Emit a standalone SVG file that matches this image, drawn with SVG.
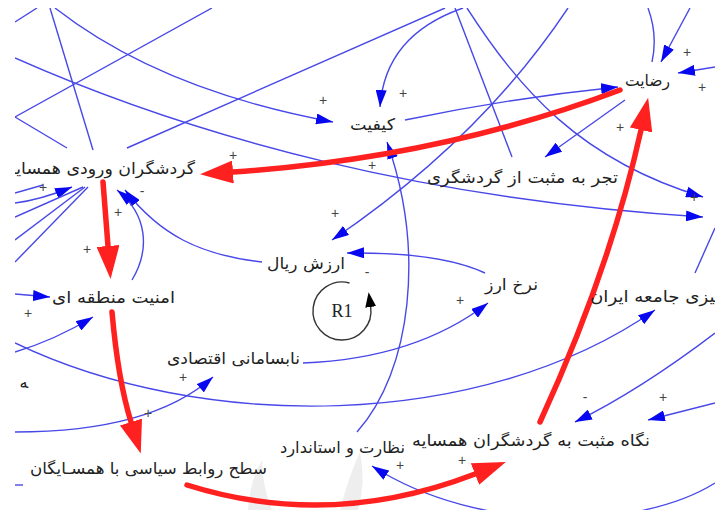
<svg xmlns="http://www.w3.org/2000/svg" width="715" height="510" viewBox="0 0 715 510">
<style>
.bg{fill:#ffffff}
.l{fill:none;stroke:#4848e8;stroke-width:1.4}
.la{fill:none;stroke:#4848e8;stroke-width:1.4;marker-end:url(#ab)}
.r{fill:none;stroke:#ff2020;stroke-width:5.5;stroke-linecap:round;marker-end:url(#ar)}
.t{font-family:"DejaVu Sans",sans-serif;font-size:16px;fill:#222;text-anchor:end}
.s{font-family:"Liberation Sans",Arial,sans-serif;font-size:14px;fill:#444;text-anchor:middle}
.wm{fill:#e2e2e2;opacity:0.6}
</style>
<defs>
<clipPath id="c"><rect x="15" y="8" width="700" height="502"/></clipPath>
<marker id="ab" markerUnits="userSpaceOnUse" markerWidth="17" markerHeight="11" refX="17" refY="5.5" orient="auto"><path d="M0,0 L17,5.5 L0,11 z" fill="#0808f0"/></marker>
<marker id="ar" markerUnits="userSpaceOnUse" markerWidth="33" markerHeight="23" refX="0" refY="11.5" orient="auto"><path d="M0,0 L33,11.5 L0,23 z" fill="#ff2020"/></marker>
<marker id="ak" markerUnits="userSpaceOnUse" markerWidth="15" markerHeight="11" refX="0" refY="5.5" orient="auto"><path d="M0,0 L15,5.5 L0,11 z" fill="#000"/></marker>
</defs>
<rect class="bg" x="0" y="0" width="715" height="510"/>
<g clip-path="url(#c)">
<g id="watermark">
<path class="wm" d="M248,510 Q250,480 262,460 Q262,485 272,510 z"/>
<path class="wm" d="M340,510 Q348,478 360,452 Q366,482 358,510 z"/>
</g>
<g id="connectors">
<path class="l" d="M15,22 L37,8"/>
<path class="l" d="M50,8 L93,150"/>
<path class="la" d="M55,8 Q160,90 333,122"/>
<path class="la" d="M15,58 C200,140 430,200 703,217"/>
<path class="l" d="M15,117 L212,8"/>
<path class="l" d="M15,117 L67,148"/>
<path class="l" d="M127,148 L445,8"/>
<path class="la" d="M463,8 Q385,35 380,107"/>
<path class="la" d="M405,120 Q510,98 618,87"/>
<path class="l" d="M455,8 L512,157"/>
<path class="la" d="M467,8 C520,90 580,160 703,197"/>
<path class="la" d="M568,8 Q480,140 332,240"/>
<path class="la" d="M625,100 L545,157"/>
<path class="l" d="M648,8 Q658,35 652,62"/>
<path class="la" d="M690,8 L661,62"/>
<path class="la" d="M715,67 L678,73"/>
<path class="la" d="M357,432 C412,370 425,250 387,142"/>
<path class="la" d="M485,273 Q440,252 347,253"/>
<path class="la" d="M262,262 C200,255 160,235 125,190"/>
<path class="la" d="M132,280 C150,250 148,215 117,190"/>
<path class="l" d="M15,193 L43,185"/>
<path class="la" d="M15,203 Q40,200 72,187"/>
<path class="l" d="M15,217 L83,187"/>
<path class="l" d="M15,240 L85,187"/>
<path class="l" d="M15,262 L88,187"/>
<path class="la" d="M15,294 L50,297"/>
<path class="la" d="M15,352 Q55,340 93,317"/>
<path class="la" d="M15,343 C200,432 480,432 655,310"/>
<path class="la" d="M303,363 C380,360 440,340 488,303"/>
<path class="la" d="M15,432 C100,432 170,415 213,377"/>
<path class="l" d="M15,485 L23,485"/>
<path class="l" d="M695,273 L715,228"/>
<path class="la" d="M715,333 Q640,390 575,422"/>
<path class="la" d="M715,403 L648,420"/>
<path class="la" d="M715,483 C640,530 480,535 372,466"/>
<path class="r" d="M620,90 Q440,158 233,172"/>
<path class="r" d="M103,182 L108,246"/>
<path class="r" d="M112,312 Q118,380 131,422"/>
<path class="r" d="M187,485 Q330,530 475,474"/>
<path class="r" d="M540,422 Q610,270 641,130"/>
</g>
<g id="polarity">
<text class="s" x="323" y="105">+</text>
<text class="s" x="403" y="98">+</text>
<text class="s" x="372" y="170">+</text>
<text class="s" x="620" y="132">+</text>
<text class="s" x="687" y="57">+</text>
<text class="s" x="702" y="92">+</text>
<text class="s" x="694" y="202">+</text>
<text class="s" x="233" y="160">+</text>
<text class="s" x="335" y="218">+</text>
<text class="s" x="118" y="217">+</text>
<text class="s" x="87" y="254">+</text>
<text class="s" x="43" y="192">+</text>
<text class="s" x="28" y="318">+</text>
<text class="s" x="460" y="305">+</text>
<text class="s" x="183" y="382">+</text>
<text class="s" x="148" y="418">+</text>
<text class="s" x="663" y="402">+</text>
<text class="s" x="400" y="470">+</text>
<text class="s" x="462" y="465">+</text>
<text class="s" x="585" y="402">-</text>
<text class="s" x="367" y="277">-</text>
<text class="s" x="142" y="196">-</text>
</g>
<g id="n-rezayat"><text class="t" x="670" y="86" textLength="45" lengthAdjust="spacingAndGlyphs">رضایت</text></g>
<g id="n-keyfiyat"><text class="t" x="395" y="130" textLength="45" lengthAdjust="spacingAndGlyphs">کیفیت</text></g>
<g id="n-tajrobe"><text class="t" x="618" y="183" textLength="191" lengthAdjust="spacingAndGlyphs">تجر به مثبت از گردشگری</text></g>
<g id="n-gardeshgaran"><text class="t" x="195" y="174" textLength="188" lengthAdjust="spacingAndGlyphs">گردشگران ورودی همسایه</text></g>
<g id="n-amniat"><text class="t" x="175" y="303" textLength="123" lengthAdjust="spacingAndGlyphs">امنیت منطقه ای</text></g>
<g id="n-arzesh"><text class="t" x="345" y="269" textLength="78" lengthAdjust="spacingAndGlyphs">ارزش ریال</text></g>
<g id="n-nerkh"><text class="t" x="538" y="290" textLength="53" lengthAdjust="spacingAndGlyphs">نرخ ارز</text></g>
<g id="n-nabesamani"><text class="t" x="300" y="364" textLength="133" lengthAdjust="spacingAndGlyphs">نابسامانی اقتصادی</text></g>
<g id="n-sath"><text class="t" x="267" y="474" textLength="237" lengthAdjust="spacingAndGlyphs">سطح روابط سیاسی با همسـایگان</text></g>
<g id="n-nezarat"><text class="t" x="405" y="453" textLength="125" lengthAdjust="spacingAndGlyphs">نظارت و استاندارد</text></g>
<g id="n-negah"><text class="t" x="650" y="446" textLength="238" lengthAdjust="spacingAndGlyphs">نگاه مثبت به گردشگران همسایه</text></g>
<g id="n-jameh"><text class="t" x="715" y="302" textLength="125" lengthAdjust="spacingAndGlyphs">&#x200D;یزی جامعه ایران</text></g>
<g id="n-fragment"><text class="t" x="28" y="388">&#x200D;ه</text></g>
<g id="loop-r1">
<path d="M349.5,283 A29,29 0 1 0 370.7,307" fill="none" stroke="#333" stroke-width="1.4" marker-end="url(#ak)"/>
<text x="342" y="317" font-family="Liberation Serif,serif" font-size="18" fill="#222" text-anchor="middle">R1</text>
</g>
</g>
</svg>
